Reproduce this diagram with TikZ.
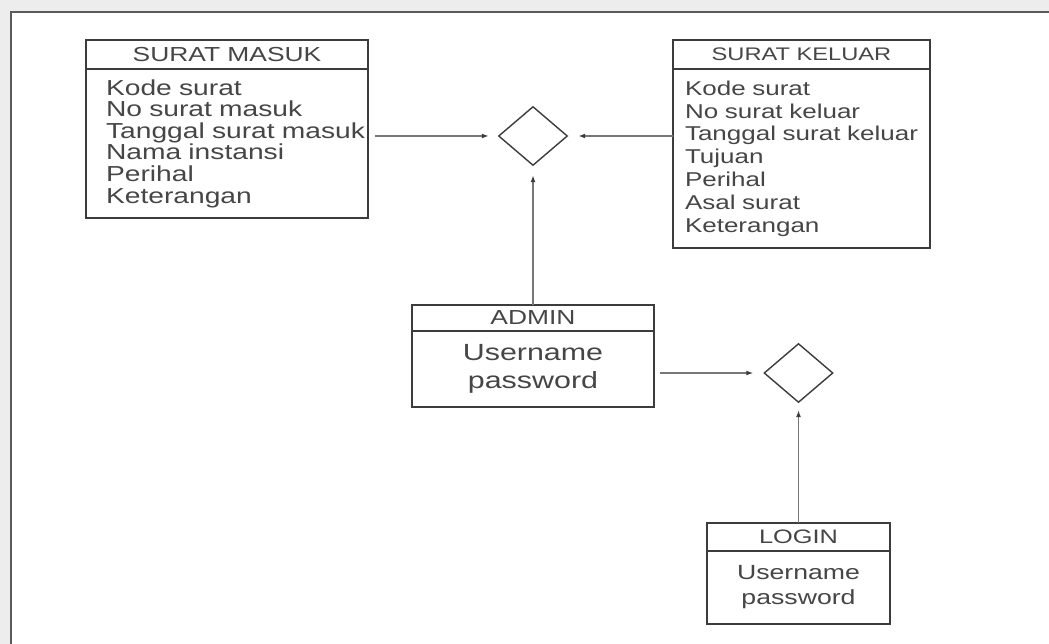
\documentclass[tikz,border=0pt]{standalone}
\usepackage{fontspec}
\setmainfont[FakeStretch=1.3]{Liberation Sans}
\usetikzlibrary{positioning}
\usetikzlibrary{shapes.geometric}
\usetikzlibrary{arrows.meta}
\definecolor{boxline}{HTML}{3C3C3C}
\definecolor{txt}{HTML}{464646}
\definecolor{linkline}{HTML}{777777}
\definecolor{frameline}{HTML}{5A5A5A}
\newcommand{\attlist}[2]{\leftskip=#1\rightskip=-40pt plus 1fil\relax #2\par}
\tikzset{
  enthead/.style={draw=boxline, line width=1.8pt, text=txt, inner sep=0pt,
    outer sep=0pt, anchor=north},
  entbody/.style={draw=boxline, line width=1.8pt, text=txt, inner sep=0pt,
    outer sep=0pt, anchor=north},
  relship/.style={diamond, draw=boxline, line width=1.4pt, inner sep=0pt,
    minimum width=69pt, minimum height=59pt},
  link/.style={draw=linkline, line width=1.4pt,
    -{Latex[length=7pt,width=5pt,color=boxline]}}
}

\begin{document}
\begin{tikzpicture}[x=1pt,y=-1pt]
  \useasboundingbox (0,0) rectangle (1049,644);
  % page frame
  \fill[black!7] (0,0) rectangle (1049,644);
  \fill[white] (11,12) rectangle (1049,644);
  \draw[frameline, line width=2.2pt] (11,644) -- (11,12) -- (1049,12);

  % entities
  \node[enthead, minimum width=282pt, minimum height=29pt,
    font=\fontsize{20.3}{22}\selectfont] (masukhead) at (227,40) {SURAT MASUK};
  \node[entbody, below=0pt of masukhead, text width=282pt, minimum height=149pt,
    font=\fontsize{21.7}{21.6}\selectfont] (masuk) {\attlist{20pt}{Kode surat\\
    No surat masuk\\Tanggal surat masuk\\Nama instansi\\Perihal\\Keterangan}};

  \node[enthead, minimum width=257pt, minimum height=29pt,
    font=\fontsize{18.2}{20}\selectfont] (keluarhead) at (801.5,40) {SURAT KELUAR};
  \node[entbody, below=0pt of keluarhead, text width=257pt, minimum height=179pt,
    font=\fontsize{20}{22.8}\selectfont] (keluar) {\attlist{12pt}{Kode surat\\
    No surat keluar\\Tanggal surat keluar\\Tujuan\\Perihal\\Asal surat\\Keterangan}};

  \node[enthead, minimum width=242pt, minimum height=26pt,
    font=\fontsize{20.3}{22}\selectfont] (adminhead) at (533,305) {ADMIN};
  \node[entbody, below=0pt of adminhead, minimum width=242pt, minimum height=76pt,
    align=center, font=\fontsize{23.4}{28}\selectfont] (admin) {Username\\password};

  \node[enthead, minimum width=183pt, minimum height=28pt,
    font=\fontsize{19.5}{21}\selectfont] (loginhead) at (798.5,523) {LOGIN};
  \node[entbody, below=0pt of loginhead, minimum width=183pt, minimum height=73pt,
    align=center, font=\fontsize{20.5}{25}\selectfont] (login) {Username\\password};

  % relationships
  \node[relship] (relsurat) at (533,136) {};
  \node[relship] (rellogin) at (798.5,373) {};

  % connectors
  \draw[link, shorten <=7pt, shorten >=9pt] (relsurat -| masuk.east) -- (relsurat);
  \draw[link, shorten >=10pt] (relsurat -| keluar.west) -- (relsurat);
  \draw[link, shorten >=9pt] (adminhead.north) -- (relsurat.south);
  \draw[link, shorten <=6pt, shorten >=10pt] (rellogin -| admin.east) -- (rellogin);
  \draw[link, shorten >=7pt] (loginhead.north) -- (rellogin.south);
\end{tikzpicture}
\end{document}
